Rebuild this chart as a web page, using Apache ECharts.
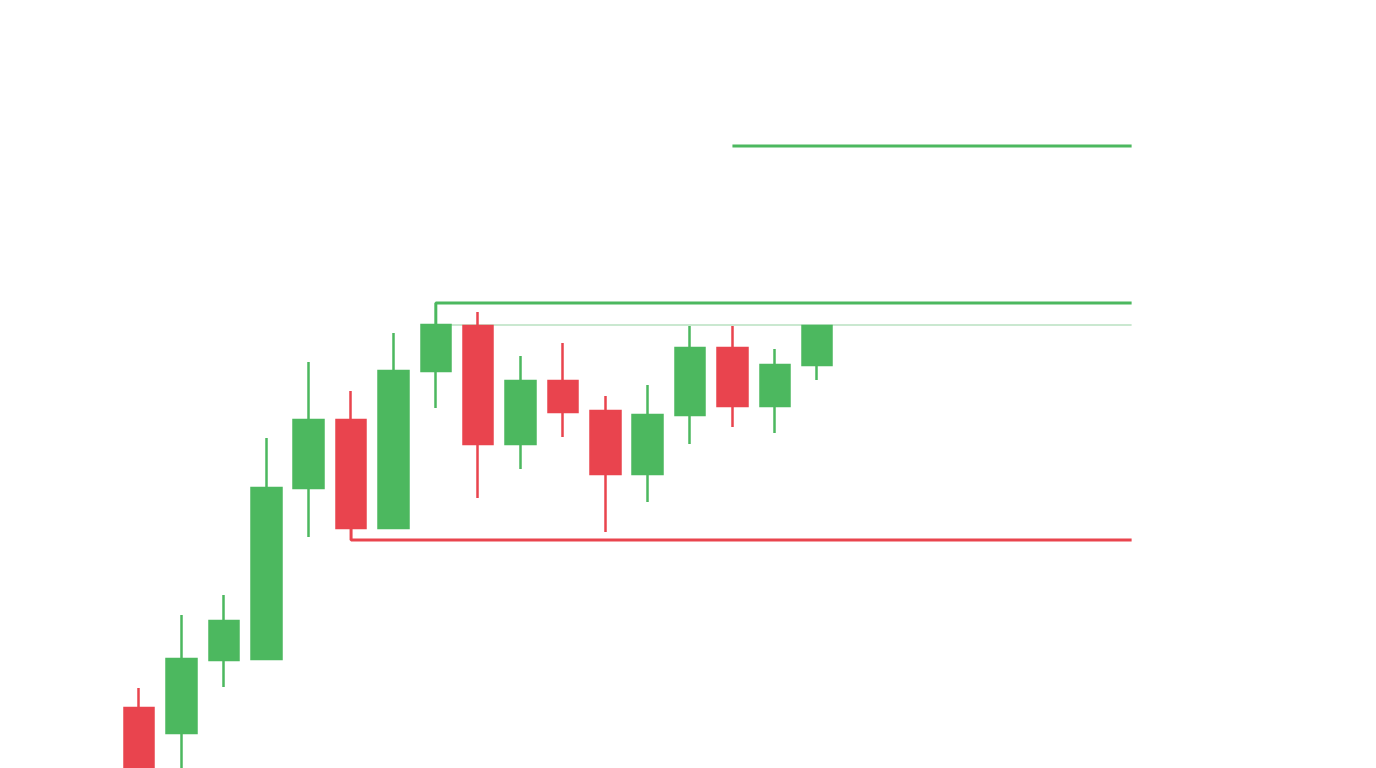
<!DOCTYPE html>
<html>
<head>
<meta charset="utf-8">
<script src="https://cdn.jsdelivr.net/npm/echarts@6/dist/echarts.min.js"></script>
<style>html,body{margin:0;padding:0;background:#fff;}#c{width:1376px;height:768px;}</style>
</head>
<body>
<div id="c"></div>
<script>
// categories (24 slots, 17 candles drawn)
const categories = ['1','2','3','4','5','6','7','8','9','10','11','12','13','14','15','16','17','18','19','20','21','22','23','24'];
// candles: [open, close, low, high]
const candles = [
  [115, 92, 87, 120],
  [108.75, 127.25, 94.5, 138.25],
  [127, 136.75, 120.25, 143.25],
  [127.25, 170, 127.25, 182.5],
  [170, 187, 157.75, 201.5],
  [187, 160, 160, 194.25],
  [160, 199.25, 160, 208.75],
  [199.25, 210.75, 190, 210.75],
  [210.5, 181, 167.5, 214],
  [181, 196.75, 174.75, 203],
  [196.75, 189, 182.75, 206.25],
  [189.25, 173.5, 159, 193],
  [173.5, 188.25, 166.5, 195.75],
  [188.25, 205, 181, 210.5],
  [205, 190.5, 185.25, 210.5],
  [190.5, 200.75, 183.75, 204.75],
  [200.75, 210.5, 197, 210.5]
];
// level lines as [x index, value] points
const targetLine = [[14, 255.5], [23.42, 255.5]];
const resistanceLine = [[7, 210.75], [7, 216.25], [23.42, 216.25]];
const topLine = [[7, 210.75], [23.42, 210.75]];
const supportLine = [[5, 160], [5, 157], [23.42, 157]];

const GREEN = '#4CB85F', RED = '#E9444E';
const chart = echarts.init(document.getElementById('c'));
chart.setOption({
  animation: false,
  backgroundColor: '#fff',
  grid: {left: 118, right: 241, top: 0, bottom: 0},
  xAxis: [
    {type: 'category', data: categories, boundaryGap: true, show: false},
    {type: 'value', min: -0.5, max: 23.5, show: false}
  ],
  yAxis: {type: 'value', min: 100, max: 292, show: false, splitLine: {show: false}},
  series: [
    {
      type: 'candlestick', data: candles, barWidth: 30, clip: true,
      itemStyle: {color: GREEN, color0: RED, borderColor: GREEN, borderColor0: RED, borderWidth: 2.5}
    },
    {type: 'line', xAxisIndex: 1, data: targetLine, symbol: 'none', lineStyle: {color: GREEN, width: 3}},
    {type: 'line', xAxisIndex: 1, data: resistanceLine, symbol: 'none', lineStyle: {color: GREEN, width: 3}},
    {type: 'line', xAxisIndex: 1, data: topLine, symbol: 'none', lineStyle: {color: '#96d2a1', width: 1.2}, z: 1},
    {type: 'line', xAxisIndex: 1, data: supportLine, symbol: 'none', lineStyle: {color: RED, width: 3}}
  ]
});
</script>
</body>
</html>
